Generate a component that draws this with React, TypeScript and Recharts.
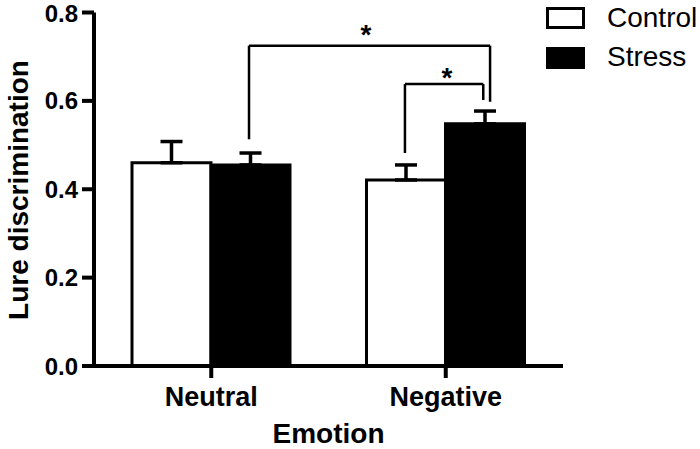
import React from "react";
import {
  BarChart, Bar, XAxis, YAxis, ErrorBar, ReferenceLine, ReferenceDot, Label,
} from "recharts";

const FONT = "'Liberation Sans', Arial, Helvetica, sans-serif";

const categories = ["Neutral", "Negative"];
const controlMeans = [0.46, 0.421];
const controlSem = [0.048, 0.034];
const stressMeans = [0.455, 0.548];
const stressSem = [0.027, 0.029];
const yTicks = [0, 0.2, 0.4, 0.6, 0.8];
// centre of each category on a hidden 0..2 position axis
const slots = [0.5, 1.5];

// significance brackets, x in group units on the hidden position axis
const bracketLeft = [0.661, 1.326];
const bracketRight = [1.689, 1.66];
const bracketTop = [0.725, 0.638];
const bracketLeftFoot = [0.513, 0.482];
const bracketRightFoot = [0.598, 0.602];
const starX = [1.16, 1.505];
const starY = [0.765, 0.668];

const data = categories.map((name, i) => ({
  name,
  slot: slots[i],
  control: controlMeans[i],
  controlErr: [0, controlSem[i]],
  stress: stressMeans[i],
  stressErr: [0, stressSem[i]],
}));

const legendItems = [
  { label: "Control", fill: "#fff" },
  { label: "Stress", fill: "#000" },
];

function Star(props: any) {
  const { cx, cy } = props;
  return (
    <text x={cx} y={cy + 16} textAnchor="middle" fontSize={28} fontWeight="bold" fontFamily={FONT} fill="#000">
      *
    </text>
  );
}

export default function App() {
  return (
    <div style={{ position: "absolute", left: 0, top: 0, width: 700, height: 449, background: "#fff" }}>
      <BarChart
        width={700}
        height={449}
        data={data}
        margin={{ top: 12.5, right: 137, bottom: 0, left: 0 }}
        barGap={0}
        barSize={79}
      >
        <XAxis
          dataKey="name"
          height={83}
          tickSize={12}
          tickMargin={9}
          axisLine={{ stroke: "#000", strokeWidth: 4 }}
          tickLine={{ stroke: "#000", strokeWidth: 4 }}
          tick={{ fontSize: 27, fontWeight: "bold", fill: "#000", fontFamily: FONT }}
        >
          <Label
            content={() => (
              <text x={328.5} y={443} textAnchor="middle" fontSize={28} fontWeight="bold" fontFamily={FONT} fill="#000">
                Emotion
              </text>
            )}
          />
        </XAxis>
        <XAxis
          xAxisId="pos"
          dataKey="slot"
          type="number"
          scale="linear"
          domain={[0, 2]}
          allowDataOverflow
          hide
        />
        <YAxis
          width={94}
          domain={[0, 0.8]}
          ticks={yTicks}
          tickFormatter={(v) => Number(v).toFixed(1)}
          tickSize={12}
          tickMargin={4}
          axisLine={{ stroke: "#000", strokeWidth: 4 }}
          tickLine={{ stroke: "#000", strokeWidth: 4 }}
          tick={{ fontSize: 24, fontWeight: "bold", fill: "#000", fontFamily: FONT }}
        >
          <Label
            content={() => (
              <text
                x={28}
                y={190}
                transform="rotate(-90, 28, 190)"
                textAnchor="middle"
                fontSize={28}
                fontWeight="bold"
                fontFamily={FONT}
                fill="#000"
              >
                Lure discrimination
              </text>
            )}
          />
        </YAxis>
        <Bar dataKey="control" fill="#fff" stroke="#000" strokeWidth={3} isAnimationActive={false}>
          <ErrorBar dataKey="controlErr" width={11} stroke="#000" strokeWidth={3.5} />
        </Bar>
        <Bar dataKey="stress" fill="#000" stroke="#000" strokeWidth={3} isAnimationActive={false}>
          <ErrorBar dataKey="stressErr" width={11} stroke="#000" strokeWidth={3.5} />
        </Bar>
        {bracketTop.map((top, i) => (
          <ReferenceLine
            key={"t" + i}
            xAxisId="pos"
            ifOverflow="visible"
            segment={[{ x: bracketLeft[i], y: top }, { x: bracketRight[i], y: top }]}
            stroke="#000"
            strokeWidth={2.5}
          />
        ))}
        {bracketTop.map((top, i) => (
          <ReferenceLine
            key={"l" + i}
            xAxisId="pos"
            ifOverflow="visible"
            segment={[{ x: bracketLeft[i], y: bracketLeftFoot[i] }, { x: bracketLeft[i], y: top }]}
            stroke="#000"
            strokeWidth={2.5}
          />
        ))}
        {bracketTop.map((top, i) => (
          <ReferenceLine
            key={"r" + i}
            xAxisId="pos"
            ifOverflow="visible"
            segment={[{ x: bracketRight[i], y: bracketRightFoot[i] }, { x: bracketRight[i], y: top }]}
            stroke="#000"
            strokeWidth={2.5}
          />
        ))}
        {starX.map((x, i) => (
          <ReferenceDot key={"s" + i} xAxisId="pos" ifOverflow="visible" x={x} y={starY[i]} r={0} shape={Star} />
        ))}
      </BarChart>
      {legendItems.map((item, i) => (
        <React.Fragment key={item.label}>
          <div
            style={{
              position: "absolute",
              left: 546,
              top: 7 + i * 39.5,
              width: 39,
              height: 22,
              boxSizing: "border-box",
              border: "3px solid #000",
              background: item.fill,
            }}
          />
          <div
            style={{
              position: "absolute",
              left: 607,
              top: 3.6 + i * 39.5,
              fontFamily: FONT,
              fontSize: 28,
              lineHeight: "28px",
              color: "#000",
              whiteSpace: "nowrap",
            }}
          >
            {item.label}
          </div>
        </React.Fragment>
      ))}
    </div>
  );
}
